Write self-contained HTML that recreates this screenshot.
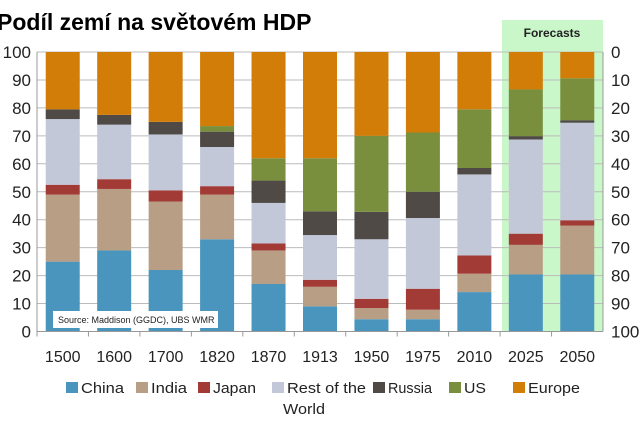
<!DOCTYPE html>
<html><head><meta charset="utf-8"><style>
body{margin:0;background:#fff;width:640px;height:420px;overflow:hidden;font-family:"Liberation Sans","DejaVu Sans",sans-serif}
</style></head><body>
<svg id="c" width="640" height="420" xmlns="http://www.w3.org/2000/svg">
<rect x="502" y="20" width="101" height="312" fill="#c9f7c9"/>
<text x="552" y="37" font-size="12" font-weight="bold" text-anchor="middle" fill="#222">Forecasts</text>
<text x="-3" y="30" font-size="23" font-weight="bold" fill="#000">Podíl zemí na světovém HDP</text>
<g id="grid"></g><g id="bars"></g><g id="axes"></g><g id="legend"></g>
<rect x="53" y="311" width="165" height="17" fill="#fff"/>
<text x="58" y="323" font-size="9" fill="#222">Source: Maddison (GGDC), UBS WMR</text>
</svg>
<script>
const categories=["1500","1600","1700","1820","1870","1913","1950","1975","2010","2025","2050"];
const china=[25,29,22,33,17,9,4.4,4.4,14.1,20.4,20.4];
const india=[24,22,24.5,16,12,7,4,3.4,6.6,10.6,17.5];
const japan=[3.5,3.5,4,3,2.5,2.5,3.3,7.5,6.5,4,1.9];
const rest=[23.5,19.5,20,14,14.5,16,21.3,25.3,29,33.7,34.9];
const russia=[3.5,3.5,4.5,5.5,8,8.5,9.8,9.4,2.3,1.2,0.9];
const us=[0,0,0,2,8,19,27.2,21.2,21,16.7,15];
const europe=[20.5,22.5,25,26.5,38,38,30,28.8,20.5,13.4,9.4];
const leftTicks=[0,10,20,30,40,50,60,70,80,90,100];
const seriesNames=["China","India","Japan","Rest of the World","Russia","US","Europe"];
const series=[china,india,japan,rest,russia,us,europe];
const colors=["#4a95bd","#b89e85","#a23b36","#c2c8d8","#4f4a45","#7a8f3d","#d27d07"];
const NS="http://www.w3.org/2000/svg";
const X0=37,X1=603,Y0=331.5,Y1=52;
const band=(X1-X0)/categories.length;
const y=v=>Y0-(Y0-Y1)*v/100;
const xc=i=>X0+band*(i+0.5);
function mk(t,a,p){const e=document.createElementNS(NS,t);for(const k in a)e.setAttribute(k,a[k]);p.appendChild(e);return e;}
const G=document.getElementById('grid'),B=document.getElementById('bars'),A=document.getElementById('axes'),L=document.getElementById('legend');
leftTicks.forEach(v=>{
 const l=mk('line',{x1:X0,x2:X1,y1:y(v),y2:y(v),stroke:'#bbb','stroke-width':1},G);
 
 
 const t=mk('text',{x:31,y:y(v)+6,'font-size':17,'text-anchor':'end',fill:'#222'},A);t.textContent=v;
 
 
 const r=mk('text',{x:611,y:y(v)+6,'font-size':17,fill:'#222'},A);r.textContent=100-v;
 
 
});
mk('line',{x1:X0,x2:X0,y1:Y1,y2:Y0,stroke:'#999'},A);
mk('line',{x1:X1,x2:X1,y1:Y1,y2:Y0,stroke:'#999'},A);
mk('line',{x1:X0,x2:X1,y1:Y0,y2:Y0,stroke:'#999'},A);
categories.forEach((c,i)=>{
 let cum=0;
 series.forEach((s,k)=>{
  const v=s[i];if(v<=0)return;
  const r=mk('rect',{x:xc(i)-17,y:y(cum+v),width:34,height:y(cum)-y(cum+v),fill:colors[k]},B);
  
  
  cum+=v;
 });
 mk('line',{x1:X0+band*i,x2:X0+band*i,y1:Y0,y2:Y0+5,stroke:'#999'},A);
 const t=mk('text',{x:xc(i),y:362,'font-size':16,'text-anchor':'middle',fill:'#222'},A);t.textContent=c;
 
 
});
const lx=[66,136,198,272,373,449,513];
const lw=[43,36,43,79,44,22,52];
seriesNames.forEach((n,k)=>{
 const g=mk('g',{},L);
 
 
 mk('rect',{x:lx[k],y:382,width:12,height:11,fill:colors[k]},g);
 const t=mk('text',{x:lx[k]+15,y:393,'font-size':15,fill:'#222',textLength:lw[k],lengthAdjust:'spacingAndGlyphs'},g);
 if(n==="Rest of the World"){t.textContent="Rest of the";const w=mk('text',{x:lx[k]+11,y:414,'font-size':15,fill:'#222',textLength:42,lengthAdjust:'spacingAndGlyphs'},g);w.textContent="World";}
 else t.textContent=n;
});
</script>
</body></html>
